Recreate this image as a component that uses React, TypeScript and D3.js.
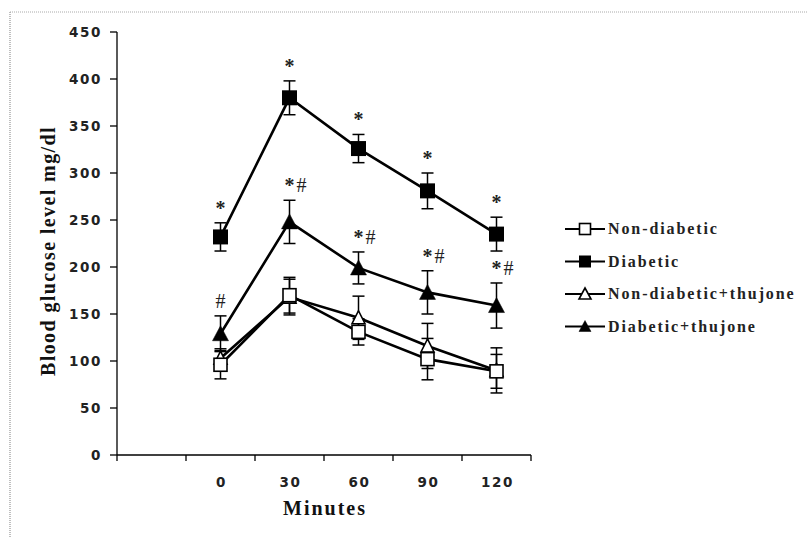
import React from 'react';
import * as d3 from 'd3';

const categories = ['', '0', '30', '60', '90', '120'];
const minutes = ['0', '30', '60', '90', '120'];
const yTicks = [0, 50, 100, 150, 200, 250, 300, 350, 400, 450];

const nonDiabetic = [96, 170, 131, 102, 89];
const nonDiabeticErr = [15, 19, 14, 22, 18];
const diabetic = [232, 380, 326, 281, 235];
const diabeticErr = [15, 18, 15, 19, 18];
const nonDiabeticThujone = [103, 168, 146, 116, 90];
const nonDiabeticThujoneErr = [10, 19, 23, 24, 24];
const diabeticThujone = [129, 248, 199, 173, 159];
const diabeticThujoneErr = [19, 23, 17, 23, 24];

const diabeticSig = ['*', '*', '*', '*', '*'];
const diabeticThujoneSig = ['#', '*#', '*#', '*#', '*#'];

const series = [
  { name: 'Non-diabetic', values: nonDiabetic, err: nonDiabeticErr, shape: 'square', filled: false, sig: null },
  { name: 'Diabetic', values: diabetic, err: diabeticErr, shape: 'square', filled: true, sig: diabeticSig },
  { name: 'Non-diabetic+thujone', values: nonDiabeticThujone, err: nonDiabeticThujoneErr, shape: 'triangle', filled: false, sig: null },
  { name: 'Diabetic+thujone', values: diabeticThujone, err: diabeticThujoneErr, shape: 'triangle', filled: true, sig: diabeticThujoneSig },
];
// open triangles go under the open squares, filled ones on top
const markerOrder = [2, 0, 3, 1];

const W = 808;
const H = 537;

function Marker({ shape, filled, cx, cy, legend }: any) {
  const fill = filled ? '#000' : '#fff';
  if (shape === 'square') {
    const s = filled ? (legend ? 12 : 15) : (legend ? 11 : 13);
    return <rect x={cx - s / 2} y={cy - s / 2} width={s} height={s} fill={fill} stroke="#000" strokeWidth={filled ? 0 : 1.6} />;
  }
  const w = legend ? 12 : (filled ? 16 : 13);
  const h = legend ? 10 : (filled ? 14 : 12);
  const pts = `${cx},${cy - h / 2 - 1} ${cx + w / 2},${cy + h / 2} ${cx - w / 2},${cy + h / 2}`;
  return <polygon points={pts} fill={fill} stroke="#000" strokeWidth={filled ? 0.5 : 1.6} />;
}

export default function App() {
  const x = d3.scaleBand<string>().domain(categories).range([117, 531]).padding(0);
  const y = d3.scaleLinear().domain([0, 450]).range([455, 32]);
  const cx = (m: string) => (x(m) as number) + x.bandwidth() / 2;

  const line = d3.line<number>()
    .x((_, i) => cx(minutes[i]))
    .y((d) => y(d));

  const boundaries = categories.map((c) => x(c) as number).concat([x.range()[1]]);
  const capW = 6;
  const tickFont = { fontFamily: 'DejaVu Sans', fontWeight: 'bold', fontSize: 13.5, letterSpacing: 1.6, fill: '#222' } as any;

  return (
    <svg width={W} height={H} style={{ position: 'absolute', left: 0, top: 0, background: '#fff' }}>
      {/* frame */}
      <line x1={10} y1={12} x2={W} y2={12} stroke="#aaa" strokeWidth={1} strokeDasharray="1 1" />
      <line x1={10} y1={12} x2={10} y2={H} stroke="#aaa" strokeWidth={1.5} strokeDasharray="1 1" />

      {/* y axis */}
      <line x1={117} y1={y(450)} x2={117} y2={y(0)} stroke="#000" strokeWidth={1.3} />
      {yTicks.map((t) => (
        <g key={t}>
          <line x1={110} x2={117} y1={y(t)} y2={y(t)} stroke="#000" strokeWidth={1.3} />
          <text x={102} y={y(t)} dy="0.36em" textAnchor="end" {...tickFont}>{t}</text>
        </g>
      ))}

      {/* x axis */}
      <line x1={x.range()[0]} x2={x.range()[1]} y1={y(0)} y2={y(0)} stroke="#000" strokeWidth={1.3} />
      {boundaries.map((b, i) => (
        <line key={i} x1={b} x2={b} y1={y(0)} y2={y(0) + 6} stroke="#000" strokeWidth={1.3} />
      ))}
      {minutes.map((m) => (
        <text key={m} x={cx(m) + 1} y={482} dy="0.36em" textAnchor="middle" {...tickFont}>{m}</text>
      ))}

      <text x={325} y={508} dy="0.36em" textAnchor="middle" fontFamily="Liberation Serif" fontWeight="bold" fontSize={20} letterSpacing={2} fill="#111">Minutes</text>
      <text transform={`translate(48,251) rotate(-90)`} dy="0.36em" textAnchor="middle" fontFamily="Liberation Serif" fontWeight="bold" fontSize={20} letterSpacing={1.4} fill="#111">Blood glucose level mg/dl</text>

      {/* error bars */}
      {series.map((s) => (
        <g key={s.name + 'err'}>
          {s.values.map((v, i) => {
            const px = cx(minutes[i]);
            const top = y(v + s.err[i]);
            const bot = y(v - s.err[i]);
            return (
              <g key={i} stroke="#000" strokeWidth={1.5}>
                <line x1={px} x2={px} y1={top} y2={bot} />
                <line x1={px - capW} x2={px + capW} y1={top} y2={top} />
                <line x1={px - capW} x2={px + capW} y1={bot} y2={bot} />
              </g>
            );
          })}
        </g>
      ))}

      {/* lines */}
      {series.map((s) => (
        <path key={s.name + 'line'} d={line(s.values) as string} fill="none" stroke="#000" strokeWidth={2.6} />
      ))}

      {/* markers */}
      {markerOrder.map((k) => {
        const s = series[k];
        return (
          <g key={s.name + 'mk'}>
            {s.values.map((v, i) => (
              <Marker key={i} shape={s.shape} filled={s.filled} cx={cx(minutes[i])} cy={y(v)} />
            ))}
          </g>
        );
      })}

      {/* significance marks */}
      {series.filter((s) => s.sig).map((s) => (
        <g key={s.name + 'sig'}>
          {s.values.map((v, i) => {
            const label = (s.sig as string[])[i];
            const px = cx(minutes[i]);
            const py = y(v + s.err[i]) - 15;
            if (label === '*') {
              return <text key={i} x={px} y={py + 7} textAnchor="middle" fontFamily="Liberation Serif" fontWeight="bold" fontSize={20} fill="#222">*</text>;
            }
            if (label === '#') {
              return <text key={i} x={px} y={py} dy="0.36em" textAnchor="middle" fontFamily="Liberation Serif" fontSize={20} fill="#222">#</text>;
            }
            return (
              <g key={i}>
                <text x={px} y={py + 7} textAnchor="middle" fontFamily="Liberation Serif" fontWeight="bold" fontSize={20} fill="#222">*</text>
                <text x={px + 7} y={py} dy="0.36em" textAnchor="start" fontFamily="Liberation Serif" fontSize={20} fill="#222">#</text>
              </g>
            );
          })}
        </g>
      ))}

      {/* legend */}
      {series.map((s, i) => {
        const ly = 229 + i * 32.5;
        return (
          <g key={s.name + 'lg'}>
            <line x1={565} x2={605} y1={ly} y2={ly} stroke="#000" strokeWidth={2} />
            <Marker shape={s.shape} filled={s.filled} cx={585} cy={ly} legend />
            <text x={608} y={ly} dy="0.34em" fontFamily="Liberation Serif" fontWeight="bold" fontSize={16} letterSpacing={1.9} fill="#222">{s.name}</text>
          </g>
        );
      })}
    </svg>
  );
}
